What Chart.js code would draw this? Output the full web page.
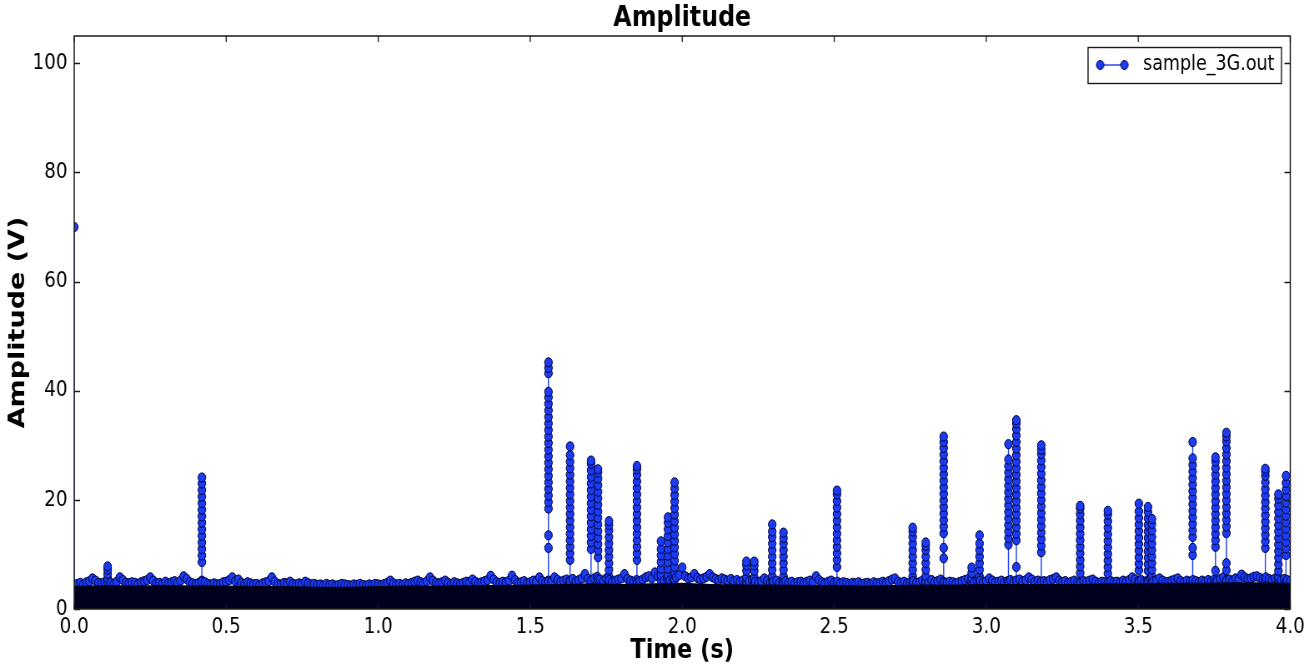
<!DOCTYPE html>
<html>
<head>
<meta charset="utf-8">
<script src="https://cdn.jsdelivr.net/npm/chart.js@4.4.1/dist/chart.umd.min.js"></script>
<style>
html, body { margin: 0; padding: 0; background: #ffffff; width: 1309px; height: 664px; overflow: hidden; }
#wrap { width: 1309px; height: 664px; overflow: hidden; }
canvas { display: block; transform: scaleX(0.83376); transform-origin: 0 0; }
</style>
</head>
<body>
<div id="wrap"><canvas id="chart" width="1570" height="664"></canvas></div>
<script>
// ---------------- data ----------------
const chartTitle = 'Amplitude';
const xTitle = 'Time (s)';
const yTitle = 'Amplitude (V)';
const seriesName = 'sample_3G.out';

const xTickValues = [0, 0.5, 1.0, 1.5, 2.0, 2.5, 3.0, 3.5, 4.0];
const yTickValues = [0, 20, 40, 60, 80, 100];

// upper edge of the sampled noise, one reading every 0.01 s (0.00 ... 4.00)
const noiseStep = 0.01;
const noiseValues = [
  4.4,4.6,4.8,4.5,4.9,5.1,5.6,5.2,4.8,4.7, 4.9,5.3,4.8,4.6,5.0,5.8,5.3,4.8,4.7,4.9,
  4.8,4.6,4.9,5.1,5.3,5.8,5.2,4.7,4.8,4.6, 5.0,4.7,4.9,5.1,4.8,5.2,6.0,5.5,4.9,4.7,
  4.6,4.8,5.2,4.9,4.6,4.5,4.7,4.5,4.6,4.9, 5.0,5.3,5.8,5.1,5.4,4.8,4.6,4.9,4.7,4.5,
  4.6,4.4,4.7,4.9,5.1,5.8,5.0,4.6,4.5,4.8, 4.7,5.0,4.6,4.5,4.7,4.6,5.0,4.7,4.5,4.6,
  4.4,4.5,4.3,4.6,4.4,4.5,4.3,4.4,4.6,4.5, 4.4,4.3,4.5,4.4,4.6,4.4,4.3,4.5,4.4,4.6,
  4.5,4.4,4.6,4.8,5.2,4.7,4.5,4.6,4.4,4.7, 4.6,4.8,5.0,5.2,4.9,4.7,5.1,5.8,5.2,4.8,
  4.7,4.9,5.2,4.8,4.6,4.9,4.7,4.6,4.8,5.0, 4.9,5.4,5.0,4.7,4.9,5.1,5.3,6.1,5.4,4.9,
  4.8,5.0,4.9,5.2,6.1,5.3,4.8,4.9,5.1,4.7, 4.9,5.2,5.0,5.8,5.1,4.9,5.2,5.0,5.8,5.3,
  5.0,5.2,5.4,5.1,5.5,5.0,5.3,5.6,6.4,5.5, 5.2,5.6,5.9,5.4,5.1,5.6,5.3,5.0,5.2,5.4,
  5.6,6.4,5.5,5.2,5.0,5.3,5.1,5.4,5.8,6.0, 5.6,6.7,6.0,5.4,5.2,5.6,5.3,5.5,5.8,6.2,
  7.6,6.0,5.6,5.8,6.4,5.7,5.4,5.6,5.9,6.4, 5.8,5.5,5.3,5.6,5.4,5.2,5.5,5.1,5.3,5.0,
  5.2,4.9,5.1,5.3,5.0,4.8,5.1,5.6,5.2,4.9, 5.0,5.2,4.8,4.9,5.1,4.8,5.0,4.7,4.9,5.0,
  4.8,5.0,5.2,4.9,6.0,5.3,4.9,4.7,5.0,5.2, 4.8,5.0,4.7,4.9,4.8,4.6,4.8,4.7,4.9,4.6,
  4.7,4.8,4.6,4.9,4.7,4.8,5.0,4.8,5.1,5.4, 5.6,5.0,4.8,5.0,4.7,4.9,5.1,4.8,4.9,5.2,
  5.0,4.8,5.3,4.9,5.1,5.4,5.0,4.8,5.0,4.9, 4.7,4.9,5.1,5.3,5.5,5.0,4.8,5.1,5.2,4.9,
  5.1,5.6,5.2,4.9,5.0,5.2,4.9,5.1,5.3,5.0, 5.2,5.4,5.0,5.3,5.8,5.4,5.0,5.2,4.9,5.1,
  5.0,5.3,5.5,5.8,5.2,4.9,5.1,4.8,5.0,5.2, 4.9,4.8,5.1,5.0,5.2,5.4,5.0,4.8,5.0,4.9,
  4.8,5.1,4.9,5.0,4.8,5.2,5.0,5.3,5.8,5.4, 5.1,5.3,5.0,5.2,5.4,5.1,5.3,5.6,5.2,4.9,
  5.0,5.2,5.4,5.6,5.1,4.9,5.2,5.0,5.3,5.1, 4.9,5.2,5.0,5.3,5.1,5.4,5.2,5.5,5.8,5.3,
  5.4,5.2,5.6,5.4,6.3,5.8,5.5,5.6,5.9,6.0, 5.7,5.4,5.8,5.5,5.3,5.6,5.4,5.2,5.5,5.3,
  5.1
];

// dense noise floor (the solid dark band), one reading every 0.1 s
const floorStep = 0.1;
const floorValues = [
  4.2,4.4,4.3,4.4,4.3,4.3,4.2,4.2,4.1,4.1,
  4.2,4.3,4.3,4.4,4.4,4.5,4.6,4.7,4.6,4.7,
  4.8,4.6,4.5,4.5,4.4,4.4,4.3,4.4,4.5,4.5,
  4.6,4.6,4.6,4.6,4.7,4.7,4.8,4.8,4.9,4.9,
  4.8
];

// bursts: time of each burst and the sample values it contains
const spikeTimes = [
  0.000, 0.110, 0.420, 1.560, 1.631, 1.700, 1.723, 1.759, 1.851, 1.930,
  1.953, 1.975, 2.211, 2.237, 2.296, 2.333, 2.509, 2.758, 2.801, 2.860,
  2.952, 2.978, 3.073, 3.099, 3.181, 3.309, 3.400, 3.502, 3.532, 3.545,
  3.679, 3.754, 3.790, 3.918, 3.961, 3.986
];
const spikeValues = [
  [70.0],
  [5.0, 5.6, 6.4, 7.2, 7.8],
  [5.0, 8.6, 9.8, 11.0, 12.2, 13.4, 14.6, 15.8, 17.0, 18.2, 19.4, 20.6, 21.8, 23.0, 24.1],
  [5.0, 11.2, 13.5, 18.4, 19.6, 20.8, 22.0, 23.2, 24.4, 25.6, 26.8, 28.0, 29.2, 30.4, 31.6, 32.8, 34.0, 35.2, 36.4, 37.6, 38.8, 39.8, 43.2, 44.2, 45.2],
  [5.0, 9.0, 10.2, 11.4, 12.6, 13.8, 15.0, 16.2, 17.4, 18.6, 19.8, 21.0, 22.2, 23.4, 24.6, 25.8, 27.0, 28.2, 29.8],
  [5.2, 11.0, 12.2, 13.4, 14.6, 15.8, 17.0, 18.2, 19.4, 20.6, 21.8, 23.0, 24.2, 25.4, 26.6, 27.2],
  [5.4, 9.5, 10.7, 11.9, 13.1, 14.3, 15.5, 16.7, 17.9, 19.1, 20.3, 21.5, 22.7, 23.9, 25.0, 25.6],
  [5.0, 6.0, 7.2, 8.4, 9.6, 10.8, 12.0, 13.2, 14.4, 15.4, 16.1],
  [4.8, 9.0, 10.2, 11.4, 12.6, 13.8, 15.0, 16.2, 17.4, 18.6, 19.8, 21.0, 22.2, 23.4, 24.6, 25.6, 26.2],
  [5.2, 6.2, 7.4, 8.6, 9.8, 11.0, 12.4],
  [5.2, 6.2, 7.4, 8.6, 9.8, 11.0, 12.2, 13.4, 14.6, 15.8, 16.8],
  [5.4, 6.5, 7.7, 8.9, 10.1, 11.3, 12.5, 13.7, 14.9, 16.1, 17.3, 18.5, 19.7, 20.9, 22.1, 23.2],
  [5.0, 5.8, 7.0, 8.0, 8.7],
  [4.8, 5.8, 7.0, 8.0, 8.7],
  [5.0, 6.0, 7.2, 8.4, 9.6, 10.8, 12.0, 13.2, 14.2, 15.5],
  [4.8, 6.0, 7.2, 8.4, 9.6, 10.8, 12.0, 13.0, 14.0],
  [4.8, 7.7, 9.0, 10.2, 11.4, 12.6, 13.8, 15.0, 16.2, 17.4, 18.6, 19.8, 21.0, 21.7],
  [4.8, 6.0, 7.2, 8.4, 9.6, 10.8, 12.0, 13.2, 14.2, 14.9],
  [5.0, 6.0, 7.2, 8.4, 9.6, 10.8, 11.6, 12.2],
  [4.8, 9.3, 11.2, 13.9, 15.1, 16.3, 17.5, 18.7, 19.9, 21.1, 22.3, 23.5, 24.7, 25.9, 27.1, 28.3, 29.5, 30.6, 31.6],
  [5.0, 5.6, 6.6, 7.6],
  [5.0, 6.0, 7.2, 8.4, 9.6, 10.8, 12.0, 13.5],
  [5.0, 11.8, 13.0, 14.2, 15.4, 16.6, 17.8, 19.0, 20.2, 21.4, 22.6, 23.8, 25.0, 26.2, 27.4, 30.2],
  [5.2, 7.7, 12.6, 13.8, 15.0, 16.2, 17.4, 18.6, 19.8, 21.0, 22.2, 23.4, 24.6, 25.8, 27.0, 28.2, 29.4, 30.6, 31.8, 33.0, 34.0, 34.6],
  [5.0, 10.4, 11.6, 12.8, 14.0, 15.2, 16.4, 17.6, 18.8, 20.0, 21.2, 22.4, 23.6, 24.8, 26.0, 27.2, 28.4, 29.2, 30.0],
  [4.8, 6.6, 7.8, 9.0, 10.2, 11.4, 12.6, 13.8, 15.0, 16.2, 17.4, 18.4, 18.9],
  [4.8, 6.5, 7.7, 8.9, 10.1, 11.3, 12.5, 13.7, 14.9, 16.1, 17.3, 18.0],
  [5.0, 7.1, 8.3, 9.5, 10.7, 11.9, 13.1, 14.3, 15.5, 16.7, 17.9, 19.3],
  [5.0, 7.0, 8.2, 9.4, 10.6, 11.8, 13.0, 14.2, 15.4, 16.6, 17.8, 18.7],
  [5.0, 6.0, 7.2, 8.4, 9.6, 10.8, 12.0, 13.2, 14.4, 15.6, 16.5],
  [4.8, 9.9, 11.2, 13.2, 14.4, 15.6, 16.8, 18.0, 19.2, 20.4, 21.6, 22.8, 24.0, 25.2, 26.4, 27.6, 30.6],
  [5.0, 7.0, 11.4, 12.6, 13.8, 15.0, 16.2, 17.4, 18.6, 19.8, 21.0, 22.2, 23.4, 24.6, 25.8, 27.0, 27.8],
  [5.2, 7.1, 8.4, 13.9, 15.1, 16.3, 17.5, 18.7, 19.9, 21.1, 22.3, 23.5, 24.7, 25.9, 27.1, 28.3, 29.5, 30.7, 31.6, 32.3],
  [5.2, 11.2, 12.4, 13.6, 14.8, 16.0, 17.2, 18.4, 19.6, 20.8, 22.0, 23.2, 24.4, 25.2, 25.7],
  [5.0, 5.8, 7.0, 8.2, 9.4, 10.6, 11.8, 13.0, 14.2, 15.4, 16.6, 17.8, 19.0, 20.2, 21.0],
  [5.0, 9.9, 11.1, 12.3, 13.5, 14.7, 15.9, 17.1, 18.3, 19.5, 20.7, 21.9, 23.1, 24.4]
];

// ---------------- build the library's tables ----------------
const samplePoints = [];
noiseValues.forEach((v, i) => samplePoints.push({ x: i * noiseStep, y: v }));
spikeTimes.forEach((t, i) => spikeValues[i].forEach(v => samplePoints.push({ x: t, y: v })));
samplePoints.sort((a, b) => a.x - b.x);

const floorPoints = floorValues.map((v, i) => ({ x: i * floorStep, y: v }));

// ---------------- styles ----------------
const FONT = 'DejaVu Sans';
const lineColor = '#1a3cf2';
const pointFill = '#1b3cf2';
const pointEdge = '#00003a';
const floorColor = '#00001e';

const ICON_W = 47;
const legendIcon = (() => {
  const c = document.createElement('canvas');
  c.width = ICON_W; c.height = 12;
  const g = c.getContext('2d');
  g.strokeStyle = lineColor; g.lineWidth = 1.4;
  g.beginPath(); g.moveTo(6, 6); g.lineTo(35, 6); g.stroke();
  [6, 35].forEach(cx => {
    g.beginPath(); g.arc(cx, 6, 4.5, 0, Math.PI * 2);
    g.fillStyle = pointFill; g.fill();
    g.strokeStyle = pointEdge; g.lineWidth = 1; g.stroke();
  });
  return c;
})();

const LEGEND_FONT = 21;
const LEGEND_PAD = 10;

const framePlugin = {
  id: 'framePlugin',
  afterUpdate(chart) {
    const lg = chart.legend, ca = chart.chartArea;
    if (!lg) return;
    lg.left = ca.right - 244;
    lg.top = ca.top + 8.5;
  },
  afterDraw(chart) {
    const { ctx, chartArea: ca } = chart;
    const xs = chart.scales.x, ys = chart.scales.y;
    ctx.save();
    ctx.strokeStyle = '#1a1a1a';
    ctx.lineWidth = 1.5;
    ctx.strokeRect(ca.left, ca.top, ca.right - ca.left, ca.bottom - ca.top);
    ctx.lineWidth = 1.3;
    ctx.beginPath();
    xTickValues.forEach(v => {
      const px = xs.getPixelForValue(v);
      ctx.moveTo(px, ca.bottom); ctx.lineTo(px, ca.bottom - 6);
      ctx.moveTo(px, ca.top); ctx.lineTo(px, ca.top + 6);
    });
    yTickValues.forEach(v => {
      const py = Math.round(ys.getPixelForValue(v)) + 0.5;
      ctx.moveTo(ca.left, py); ctx.lineTo(ca.left + 7, py);
      ctx.moveTo(ca.right, py); ctx.lineTo(ca.right - 7, py);
    });
    ctx.stroke();
    // legend frame
    const lg = chart.legend;
    ctx.font = LEGEND_FONT + 'px "' + FONT + '"';
    const tw = ctx.measureText(seriesName).width;
    const iconLeft = lg.left + LEGEND_PAD;
    const x0 = iconLeft - 8.4;
    const x1 = iconLeft + ICON_W + LEGEND_FONT / 2 + tw + 8.4;
    const cy = lg.top + LEGEND_PAD + LEGEND_FONT / 2;
    ctx.lineWidth = 1.4;
    ctx.strokeStyle = '#1a1a1a';
    ctx.strokeRect(Math.round(x0), Math.round(cy - 18) + 0.5, Math.round(x1 - x0), 36);
    ctx.restore();
  }
};

new Chart(document.getElementById('chart'), {
  type: 'line',
  data: {
    datasets: [
      {
        label: 'noise floor',
        data: floorPoints,
        order: 0,
        fill: 'origin',
        backgroundColor: floorColor,
        borderWidth: 0,
        borderColor: floorColor,
        pointRadius: 0,
        tension: 0
      },
      {
        label: seriesName,
        data: samplePoints,
        order: 1,
        fill: false,
        borderColor: lineColor,
        borderWidth: 1.4,
        pointRadius: 4.6,
        pointBorderWidth: 1,
        pointBackgroundColor: pointFill,
        pointBorderColor: pointEdge,
        pointStyle: 'circle',
        tension: 0,
        clip: 0,
        segment: {
          borderColor: c => (c.p0.parsed.x !== c.p1.parsed.x && Math.abs(c.p0.parsed.y - c.p1.parsed.y) > 2.5) ? 'rgba(0,0,0,0)' : undefined
        }
      }
    ]
  },
  options: {
    responsive: false,
    animation: false,
    devicePixelRatio: 1,
    parsing: false,
    normalized: true,
    layout: { padding: { left: 0, right: 17, top: 0, bottom: 0 } },
    plugins: {
      tooltip: { enabled: false },
      title: {
        display: true,
        fullSize: false,
        text: chartTitle,
        color: '#000',
        font: { family: FONT, size: 28.5, weight: 'bold', lineHeight: 1.2 },
        padding: { top: 1, bottom: 0.8 }
      },
      legend: {
        position: 'chartArea',
        align: 'start',
        labels: {
          usePointStyle: true,
          pointStyleWidth: ICON_W,
          padding: LEGEND_PAD,
          color: '#000',
          font: { family: FONT, size: LEGEND_FONT },
          generateLabels: () => [{
            text: seriesName,
            pointStyle: legendIcon,
            fillStyle: pointFill,
            strokeStyle: pointEdge,
            lineWidth: 0,
            hidden: false,
            datasetIndex: 1,
            fontColor: '#000'
          }]
        }
      }
    },
    scales: {
      x: {
        type: 'linear',
        min: 0,
        max: 4,
        afterBuildTicks: s => { s.ticks = xTickValues.map(v => ({ value: v })); },
        afterFit: s => { s.height = 55; },
        grid: { display: false, drawTicks: false },
        border: { display: false },
        ticks: {
          color: '#000',
          font: { family: FONT, size: 22 },
          padding: 5,
          maxRotation: 0,
          autoSkip: false,
          callback: v => Number(v).toFixed(1)
        },
        title: {
          display: true,
          text: xTitle,
          color: '#000',
          font: { family: FONT, size: 27, weight: 'bold', lineHeight: 1.0 },
          padding: { top: 0, bottom: 0 }
        }
      },
      y: {
        type: 'linear',
        min: 0,
        max: 105,
        afterBuildTicks: s => { s.ticks = yTickValues.map(v => ({ value: v })); },
        afterFit: s => { s.width = 89; },
        grid: { display: false, drawTicks: false },
        border: { display: false },
        ticks: {
          color: '#000',
          font: { family: FONT, size: 22 },
          padding: 8,
          autoSkip: false,
          callback: v => String(v)
        },
        title: {
          display: true,
          text: yTitle,
          color: '#000',
          font: { family: FONT, size: 27, weight: 'bold', lineHeight: 1.0 },
          padding: { top: 8, bottom: 0 }
        }
      }
    }
  },
  plugins: [framePlugin]
});
</script>
</body>
</html>
